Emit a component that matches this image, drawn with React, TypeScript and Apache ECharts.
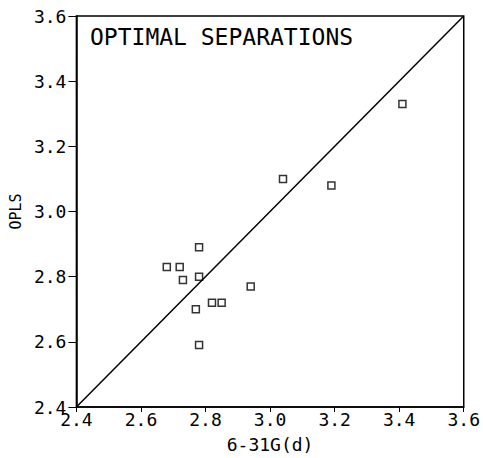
import React, { useEffect, useRef } from "react";
import * as echarts from "echarts";

const pointsX = [3.41, 3.04, 3.19, 2.78, 2.68, 2.72, 2.73, 2.78, 2.94, 2.82, 2.85, 2.77, 2.78];
const pointsY = [3.33, 3.10, 3.08, 2.89, 2.83, 2.83, 2.79, 2.80, 2.77, 2.72, 2.72, 2.70, 2.59];
const lineX = [2.4, 3.6];
const lineY = [2.4, 3.6];
const titleText = "OPTIMAL SEPARATIONS";
const xName = "6-31G(d)";
const yName = "OPLS";

const FONT = "DejaVu Sans Mono";

export default function App() {
  const ref = useRef<HTMLDivElement>(null);
  useEffect(() => {
    if (!ref.current) return;
    const chart = echarts.init(ref.current, undefined, { renderer: "svg" });
    const axisCommon = {
      min: 2.4,
      max: 3.6,
      interval: 0.2,
      splitLine: { show: false },
      axisLine: { show: true, lineStyle: { color: "#000", width: 1.5 } },
    };
    chart.setOption({
      animation: false,
      backgroundColor: "#fff",
      title: {
        text: titleText,
        left: 85,
        top: 20,
        textStyle: { fontFamily: FONT, fontSize: 23, fontWeight: "normal", color: "#000" },
      },
      grid: { left: 72, right: 17, top: 16, bottom: 47, show: true, borderColor: "#000", borderWidth: 1.5 },
      xAxis: {
        ...axisCommon,
        type: "value",
        name: xName,
        nameLocation: "middle",
        nameGap: 28,
        nameTextStyle: { fontFamily: FONT, fontSize: 18, color: "#000" },
        axisTick: { show: true, length: 5, lineStyle: { color: "#000" } },
        axisLabel: {
          fontFamily: FONT,
          fontSize: 18,
          color: "#000",
          margin: 3,
          formatter: (v: number) => v.toFixed(1),
        },
      },
      yAxis: {
        ...axisCommon,
        type: "value",
        name: yName,
        nameLocation: "middle",
        nameGap: 45,
        nameTextStyle: { fontFamily: FONT, fontSize: 15, color: "#000" },
        axisTick: { show: true, length: 8, lineStyle: { color: "#000" } },
        axisLabel: {
          fontFamily: FONT,
          fontSize: 18,
          color: "#000",
          margin: 10,
          formatter: (v: number) => v.toFixed(1),
        },
      },
      series: [
        {
          type: "line",
          data: lineX.map((x, i) => [x, lineY[i]]),
          showSymbol: false,
          symbol: "none",
          lineStyle: { color: "#000", width: 1.5 },
          silent: true,
        },
        {
          type: "scatter",
          data: pointsX.map((x, i) => [x, pointsY[i]]),
          symbol: "rect",
          symbolSize: 7,
          itemStyle: { color: "#fff", borderColor: "#000", borderWidth: 1.5 },
        },
      ],
    });
    return () => chart.dispose();
  }, []);
  return (
    <div
      ref={ref}
      style={{ position: "fixed", left: 0, top: 0, width: 483, height: 458 }}
    />
  );
}
